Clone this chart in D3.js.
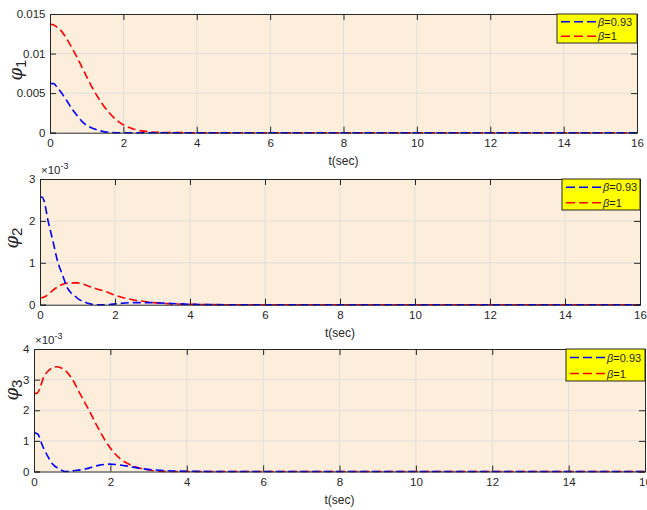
<!DOCTYPE html>
<html>
<head>
<meta charset="utf-8">
<script src="https://cdn.jsdelivr.net/npm/d3@7"></script>
<style>
  html, body { margin: 0; padding: 0; background: #ffffff; }
  svg { display: block; }
  text { font-family: "Liberation Sans", Arial, Helvetica, sans-serif; fill: #262626; }
</style>
</head>
<body>
<svg id="fig" width="647" height="510"></svg>
<script>
// Time axis ticks shared by all three panels
const xTicks = [0, 2, 4, 6, 8, 10, 12, 14, 16];
const seriesNames = ["β=0.93", "β=1"];

// Panel 1: φ1
const phi1YTicks = [0, 0.005, 0.01, 0.015];
const phi1YTickLabels = ["0", "0.005", "0.01", "0.015"];
const phi1BlueT = [0, 0.1, 0.2, 0.3, 0.45, 0.6, 0.75, 0.9, 1.05, 1.2, 1.4, 1.6, 1.8, 2, 2.5, 3, 4, 16];
const phi1Blue  = [0.0062, 0.0062, 0.0057, 0.0051, 0.0041, 0.0030, 0.0021, 0.0013, 0.0008, 0.0005, 0.0002, 0.00005, 0, 0, 0, 0, 0, 0];
const phi1RedT  = [0, 0.1, 0.2, 0.3, 0.45, 0.6, 0.75, 0.9, 1.05, 1.2, 1.4, 1.6, 1.8, 2, 2.25, 2.5, 2.75, 3, 3.5, 4, 16];
const phi1Red   = [0.0137, 0.0136, 0.0133, 0.0129, 0.0119, 0.0107, 0.0094, 0.0080, 0.0066, 0.0053, 0.0038, 0.0026, 0.00165, 0.0010, 0.0005, 0.00023, 0.0001, 0.00004, 0.00001, 0, 0];

// Panel 2: φ2 (values in units of 10^-3)
const phi2YTicks = [0, 1, 2, 3];
const phi2BlueT = [0, 0.05, 0.1, 0.22, 0.35, 0.47, 0.6, 0.73, 0.85, 0.95, 1.05, 1.17, 1.3, 1.48, 1.7, 2, 2.5, 3, 3.5, 4, 5, 16];
const phi2Blue  = [2.56, 2.57, 2.5, 1.98, 1.5, 1.03, 0.71, 0.4, 0.26, 0.19, 0.12, 0.07, 0.03, 0.0, 0.0, 0.02, 0.05, 0.05, 0.03, 0.01, 0, 0];
const phi2RedT  = [0, 0.13, 0.25, 0.35, 0.5, 0.69, 0.85, 1.0, 1.15, 1.33, 1.5, 1.69, 1.85, 2, 2.3, 2.67, 3, 3.5, 4, 5, 16];
const phi2Red   = [0.16, 0.19, 0.27, 0.35, 0.44, 0.51, 0.52, 0.52, 0.49, 0.43, 0.38, 0.33, 0.28, 0.23, 0.15, 0.09, 0.05, 0.02, 0.01, 0, 0];

// Panel 3: φ3 (values in units of 10^-3)
const phi3YTicks = [0, 1, 2, 3, 4];
const phi3BlueT = [0, 0.1, 0.22, 0.35, 0.48, 0.65, 0.82, 1.08, 1.34, 1.69, 1.96, 2.2, 2.47, 2.73, 2.99, 3.4, 4, 5, 16];
const phi3Blue  = [1.27, 1.22, 0.85, 0.52, 0.25, 0.09, 0.0, 0.03, 0.08, 0.2, 0.24, 0.22, 0.17, 0.11, 0.07, 0.03, 0.01, 0, 0];
const phi3RedT  = [0, 0.08, 0.15, 0.24, 0.37, 0.59, 0.81, 0.99, 1.2, 1.42, 1.64, 1.86, 2.12, 2.38, 2.69, 2.95, 3.3, 3.6, 4, 5, 16];
const phi3Red   = [2.55, 2.56, 2.7, 3.04, 3.28, 3.42, 3.31, 3.04, 2.55, 2.05, 1.51, 1.02, 0.58, 0.31, 0.14, 0.06, 0.01, 0, 0, 0, 0];

const BLUE = "#0000ff", RED = "#ff0000";
const svg = d3.select("#fig");

const panels = [
  { box: { l: 50, r: 637, t: 14, b: 132.7 }, yMax: 0.015, yTicks: phi1YTicks, yFmt: (d, i) => phi1YTickLabels[i],
    blue: [phi1BlueT, phi1Blue], red: [phi1RedT, phi1Red], sub: "1", labelX: 22, labelY: 70,
    exp: false, legend: { l: 557, r: 637, t: 14, b: 43 } },
  { box: { l: 40, r: 640, t: 179, b: 304.7 }, yMax: 3, yTicks: phi2YTicks, yFmt: d => String(d),
    blue: [phi2BlueT, phi2Blue], red: [phi2RedT, phi2Red], sub: "2", labelX: 18, labelY: 238,
    exp: true, legend: { l: 562, r: 640, t: 179, b: 210 } },
  { box: { l: 34, r: 645, t: 349, b: 471.5 }, yMax: 4, yTicks: phi3YTicks, yFmt: d => String(d),
    blue: [phi3BlueT, phi3Blue], red: [phi3RedT, phi3Red], sub: "3", labelX: 18, labelY: 390,
    exp: true, legend: { l: 566, r: 645, t: 349, b: 381 } }
];

panels.forEach((p, idx) => {
  const { l, r, t, b } = p.box;
  const x = d3.scaleLinear().domain([0, 16]).range([l, r]);
  const y = d3.scaleLinear().domain([0, p.yMax]).range([b, t]);
  const g = svg.append("g");

  // plot area background
  g.append("rect").attr("x", l).attr("y", t).attr("width", r - l).attr("height", b - t)
    .attr("fill", "#fdeedb");

  // grid
  g.append("g").selectAll("line").data(xTicks.slice(1, -1)).join("line")
    .attr("x1", d => x(d)).attr("x2", d => x(d)).attr("y1", t).attr("y2", b)
    .attr("stroke", "#dedede").attr("stroke-width", 1);
  g.append("g").selectAll("line").data(p.yTicks.slice(1, -1)).join("line")
    .attr("x1", l).attr("x2", r).attr("y1", d => y(d)).attr("y2", d => y(d))
    .attr("stroke", "#dedede").attr("stroke-width", 1);

  // data lines
  const clipId = "clip" + idx;
  svg.append("clipPath").attr("id", clipId).append("rect")
    .attr("x", l).attr("y", t - 2).attr("width", r - l).attr("height", b - t + 4);
  const line = d3.line().x(d => x(d[0])).y(d => y(d[1])).curve(d3.curveMonotoneX);
  const drawSeries = (ser, color) => {
    const pts = d3.zip(ser[0], ser[1]);
    g.append("path").datum(pts).attr("d", line)
      .attr("fill", "none").attr("stroke", color).attr("stroke-width", 1.6)
      .attr("stroke-dasharray", "8,4").attr("clip-path", `url(#${clipId})`);
  };
  drawSeries(p.red, RED);
  drawSeries(p.blue, BLUE);

  // axes: bottom/top/left/right with inward ticks
  const axB = d3.axisBottom(x).tickValues(xTicks).tickSize(-6).tickPadding(6).tickFormat(d3.format("d"));
  const axT = d3.axisTop(x).tickValues(xTicks).tickSize(-6).tickFormat("");
  const axL = d3.axisLeft(y).tickValues(p.yTicks).tickSize(-6).tickPadding(4.5).tickFormat(p.yFmt);
  const axR = d3.axisRight(y).tickValues(p.yTicks).tickSize(-6).tickFormat("");
  const style = sel => {
    sel.select(".domain").attr("stroke", "#262626").attr("stroke-width", 1);
    sel.selectAll(".tick line").attr("stroke", "#262626").attr("stroke-width", 1);
    sel.selectAll(".tick text").attr("font-size", 11.5).attr("fill", "#262626")
      .attr("font-family", "Liberation Sans, Arial, sans-serif");
  };
  g.append("g").attr("transform", `translate(0,${b})`).call(axB).call(style);
  g.append("g").attr("transform", `translate(0,${t})`).call(axT).call(style);
  g.append("g").attr("transform", `translate(${l},0)`).call(axL).call(style);
  g.append("g").attr("transform", `translate(${r},0)`).call(axR).call(style);

  // x-axis title
  g.append("text").attr("x", (l + r) / 2).attr("y", b + 32).attr("text-anchor", "middle")
    .attr("font-size", 12).text("t(sec)");

  // y-axis title φ with subscript
  const yl = g.append("text").attr("transform", `translate(${p.labelX},${p.labelY}) rotate(-90)`)
    .attr("text-anchor", "middle").attr("font-size", 18);
  yl.append("tspan").attr("font-family", "DejaVu Serif, serif").attr("font-style", "italic").text("φ");
  yl.append("tspan").attr("font-size", 15).attr("dy", 4).text(p.sub);

  // exponent label
  if (p.exp) {
    const ex = g.append("text").attr("x", l + 1).attr("y", t - 5).attr("font-size", 11.5);
    ex.append("tspan").text("×10");
    ex.append("tspan").attr("font-size", 9).attr("dy", -5).text("-3");
  }

  // legend
  const lg = p.legend;
  g.append("rect").attr("x", lg.l).attr("y", lg.t).attr("width", lg.r - lg.l).attr("height", lg.b - lg.t)
    .attr("fill", "#ffff00").attr("stroke", "#262626").attr("stroke-width", 1);
  const rowH = (lg.b - lg.t) / 2;
  [BLUE, RED].forEach((c, i) => {
    const cy = lg.t + rowH * (i + 0.5) + 0.5;
    g.append("line").attr("x1", lg.l + 4).attr("x2", lg.l + 39).attr("y1", cy).attr("y2", cy)
      .attr("stroke", c).attr("stroke-width", 1.6).attr("stroke-dasharray", "9,4");
    const tx = g.append("text").attr("x", lg.l + 41).attr("y", cy + 4).attr("font-size", 11);
    tx.append("tspan").attr("font-style", "italic").text(seriesNames[i].slice(0, 1));
    tx.append("tspan").text(seriesNames[i].slice(1));
  });
});
</script>
</body>
</html>
